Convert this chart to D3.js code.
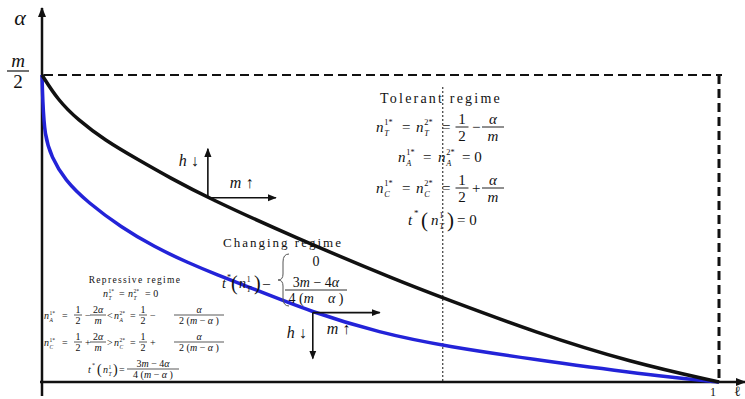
<!DOCTYPE html>
<html>
<head>
<meta charset="utf-8">
<script src="https://cdn.jsdelivr.net/npm/d3@7"></script>
<style>
  body { margin: 0; background: #fff; }
  svg { display: block; }
</style>
</head>
<body>
<svg width="745" height="399"></svg>
<script>
// black boundary (tolerant regime above it), alpha in units of m
const upperL = [0, 0.0236, 0.053, 0.0926, 0.142, 0.19, 0.245, 0.37, 0.53, 0.59, 0.73, 0.87, 1];
const upperA = [0.5, 0.459, 0.427, 0.394, 0.362, 0.332, 0.300, 0.237, 0.163, 0.138, 0.080, 0.032, 0];
// blue boundary (repressive regime below it)
const lowerL = [0, 0.001, 0.004, 0.014, 0.0335, 0.068, 0.117, 0.166, 0.216, 0.26, 0.30, 0.40, 0.50, 0.59, 0.775, 0.923, 1];
const lowerA = [0.5, 0.46, 0.40, 0.367, 0.329, 0.292, 0.252, 0.220, 0.194, 0.174, 0.157, 0.113, 0.080, 0.059, 0.029, 0.008, 0];
const xTicks = [1];
const alphaMax = 0.5;           // m / 2
const cutL = 0.592;             // thin dotted line
const arrowUpperL = 0.245;      // where the h/m arrows sit on each curve
const arrowLowerL = 0.40;

const serif = "'Liberation Serif', 'Times New Roman', 'DejaVu Serif', serif";
const svg = d3.select("svg").attr("font-family", serif);
const ink = "#111";

const x = d3.scaleLinear().domain([0, 1]).range([42, 719]);
const y = d3.scaleLinear().domain([0, alphaMax]).range([382, 75]);

const defs = svg.append("defs");
const marker = (id, w) => defs.append("marker")
    .attr("id", id)
    .attr("viewBox", "0 0 10 10")
    .attr("refX", 9).attr("refY", 5)
    .attr("markerWidth", w).attr("markerHeight", w)
    .attr("markerUnits", "userSpaceOnUse")
    .attr("orient", "auto")
    .append("path").attr("d", "M0,1 L10,5 L0,9 Z").attr("fill", ink);
marker("head", 9);
marker("axisHead", 10);

// dashed box at alpha = m/2 and l = 1
svg.append("line")
    .attr("x1", x(0) + 2).attr("x2", x(1) + 3)
    .attr("y1", y(alphaMax)).attr("y2", y(alphaMax))
    .attr("stroke", ink).attr("stroke-width", 2).attr("stroke-dasharray", "9,5");
svg.append("line")
    .attr("x1", x(1)).attr("x2", x(1))
    .attr("y1", y(alphaMax)).attr("y2", y(0) - 2)
    .attr("stroke", ink).attr("stroke-width", 3).attr("stroke-dasharray", "9,5");

// thin dotted divider
svg.append("line")
    .attr("x1", x(cutL)).attr("x2", x(cutL))
    .attr("y1", 87).attr("y2", y(0))
    .attr("stroke", ink).attr("stroke-width", 1).attr("stroke-dasharray", "2,2");

// axes
svg.append("line")
    .attr("x1", x(0)).attr("x2", x(0))
    .attr("y1", 396).attr("y2", 8)
    .attr("stroke", ink).attr("stroke-width", 2.5)
    .attr("marker-end", "url(#axisHead)");
svg.append("line")
    .attr("x1", x(0) - 2).attr("x2", 745)
    .attr("y1", y(0)).attr("y2", y(0))
    .attr("stroke", ink).attr("stroke-width", 2.5)
    .attr("marker-end", "url(#axisHead)");

// curves
const line = d3.line()
    .x(d => x(d[0]))
    .y(d => y(d[1]))
    .curve(d3.curveBasis);

const lowerPts = lowerL.map((l, i) => [l, lowerA[i]]);
const upperPts = upperL.map((l, i) => [l, upperA[i]]);

svg.append("path")
    .datum(lowerPts)
    .attr("d", line)
    .attr("fill", "none")
    .attr("stroke", "#2323d8")
    .attr("stroke-width", 3.5);

svg.append("path")
    .datum(upperPts)
    .attr("d", line)
    .attr("fill", "none")
    .attr("stroke", ink)
    .attr("stroke-width", 3.5);

// ---- text helpers: letters italic, digits/operators upright
const isItalic = ch => /[A-Za-zα]/.test(ch);
function math(g, px, py, str, size, anchor) {
    const t = g.append("text")
        .attr("x", px).attr("y", py)
        .attr("font-size", size)
        .attr("font-family", serif)
        .attr("fill", ink)
        .attr("text-anchor", anchor || "start")
        .attr("xml:space", "preserve");
    let buf = "", it = null;
    const flush = () => {
        if (buf) t.append("tspan").attr("font-style", it ? "italic" : "normal").text(buf);
        buf = "";
    };
    for (const ch of str) {
        const i = isItalic(ch);
        if (ch !== " " && i !== it) { flush(); it = i; }
        buf += ch;
    }
    flush();
    return t;
}
function nvar(g, px, py, sub, sup, size) {
    math(g, px, py, "n", size);
    const s = size * 0.55, dx = px + size * 0.55;
    math(g, dx, py - size * 0.45, sup, s);
    math(g, dx, py + size * 0.25, sub, s);
}
function frac(g, xc, yl, num, den, w, size) {
    math(g, xc, yl - size * 0.22, num, size, "middle");
    math(g, xc, yl + size * 0.9, den, size, "middle");
    g.append("line")
        .attr("x1", xc - w / 2).attr("x2", xc + w / 2)
        .attr("y1", yl).attr("y2", yl)
        .attr("stroke", ink).attr("stroke-width", Math.max(0.7, size / 16));
}
function title(g, px, py, str, size, spacing) {
    g.append("text")
        .attr("x", px).attr("y", py)
        .attr("font-size", size)
        .attr("font-family", serif)
        .attr("fill", ink)
        .attr("text-anchor", "middle")
        .attr("letter-spacing", spacing)
        .text(str);
}

const ann = svg.append("g");

// axis labels
math(ann, 20, 25, "α", 22, "middle");
frac(ann, 18, 71, "m", "2", 22, 19);
xTicks.forEach(v => math(ann, x(v) - 6, 396, String(v), 12, "middle"));
math(ann, 734, 396, "ℓ", 14);

// tolerant regime
title(ann, 441, 103, "Tolerant regime", 14, 2.2);
const r1 = 127, r3 = 188;
nvar(ann, 376, r1 + 5, "T", "1*", 15);
math(ann, 402, r1 + 5, "=", 15);
nvar(ann, 416, r1 + 5, "T", "2*", 15);
math(ann, 442, r1 + 5, "=", 15);
frac(ann, 462, r1, "1", "2", 13, 15);
math(ann, 472, r1 + 5, "−", 15);
frac(ann, 493, r1, "α", "m", 22, 15);

nvar(ann, 398, 162, "A", "1*", 15);
math(ann, 423, 162, "=", 15);
nvar(ann, 438, 162, "A", "2*", 15);
math(ann, 462, 162, "= 0", 15);

nvar(ann, 376, r3 + 5, "C", "1*", 15);
math(ann, 402, r3 + 5, "=", 15);
nvar(ann, 416, r3 + 5, "C", "2*", 15);
math(ann, 442, r3 + 5, "=", 15);
frac(ann, 462, r3, "1", "2", 13, 15);
math(ann, 472, r3 + 5, "+", 15);
frac(ann, 493, r3, "α", "m", 22, 15);

math(ann, 408, 225, "t", 15);
math(ann, 414, 216, "*", 9);
math(ann, 421, 227, "(", 21);
nvar(ann, 431, 225, "T", "1", 15);
math(ann, 447, 227, ")", 21);
math(ann, 457, 225, "= 0", 15);

// changing regime
title(ann, 283, 247, "Changing regime", 13, 2);
math(ann, 316, 266, "0", 14, "middle");
math(ann, 222, 288, "t", 14);
math(ann, 227, 280, "*", 8);
math(ann, 231, 290, "(", 20);
nvar(ann, 239, 288, "T", "1", 14);
math(ann, 254, 290, ")", 20);
math(ann, 263, 288, "–", 14);
ann.append("path")
    .attr("d", "M289,254 Q283,254 283,262 L283,274 Q283,280 278,280 Q283,280 283,286 L283,298 Q283,306 289,306")
    .attr("fill", "none").attr("stroke", "#555").attr("stroke-width", 1);
frac(ann, 316, 290, "3m − 4α", "4 (m    α )", 62, 14);

// repressive regime
title(ann, 135, 283, "Repressive regime", 9.5, 1.3);
nvar(ann, 103, 297, "T", "1*", 10);
math(ann, 119, 297, "=", 10);
nvar(ann, 128, 297, "T", "2*", 10);
math(ann, 145, 297, "= 0", 10);

const rows = [[315, "A", "−", "<"], [342, "C", "+", ">"]];
rows.forEach(([ry, s, op, cmp]) => {
    nvar(ann, 44, ry + 4, s, "1*", 10);
    math(ann, 62, ry + 4, "=", 10);
    frac(ann, 78, ry, "1", "2", 8, 10);
    math(ann, 85, ry + 4, op, 10);
    frac(ann, 98, ry, "2α", "m", 16, 10);
    math(ann, 107, ry + 4, cmp, 10);
    nvar(ann, 114, ry + 4, s, "2*", 10);
    math(ann, 130, ry + 4, "=", 10);
    frac(ann, 143, ry, "1", "2", 8, 10);
    math(ann, 150, ry + 4, op, 10);
    frac(ann, 199, ry, "α", "2 (m − α )", 50, 10);
});

math(ann, 88, 373, "t", 10);
math(ann, 92, 367, "*", 6);
math(ann, 97, 374, "(", 14);
nvar(ann, 103, 373, "T", "1", 10);
math(ann, 113, 374, ")", 14);
math(ann, 119, 373, "=", 10);
frac(ann, 153, 369, "3m − 4α", "4 (m − α )", 52, 10);

// h / m comparative statics arrows, anchored on the curves
const arrows = (l, a, up, len) => {
    const px = x(l), py = y(a);
    ann.append("line")
        .attr("x1", px).attr("y1", py)
        .attr("x2", px).attr("y2", up ? py - len[0] : py + len[0])
        .attr("stroke", ink).attr("stroke-width", 1.6)
        .attr("marker-end", "url(#head)");
    ann.append("line")
        .attr("x1", px).attr("y1", py)
        .attr("x2", px + len[1]).attr("y2", py)
        .attr("stroke", ink).attr("stroke-width", 1.6)
        .attr("marker-end", "url(#head)");
    return [px, py];
};
const interp = (ls, as, l) => d3.scaleLinear().domain(ls).range(as)(l);

const [ux, uy] = arrows(arrowUpperL, interp(upperL, upperA, arrowUpperL), true, [49, 68]);
math(ann, ux - 29, uy - 32, "h ↓", 16);
math(ann, ux + 22, uy - 10, "m ↑", 16);

const [lx, ly] = arrows(arrowLowerL, interp(lowerL, lowerA, arrowLowerL), false, [46, 67]);
math(ann, lx - 26, ly + 25, "h ↓", 16);
math(ann, lx + 14, ly + 21, "m ↑", 16);
</script>
</body>
</html>
